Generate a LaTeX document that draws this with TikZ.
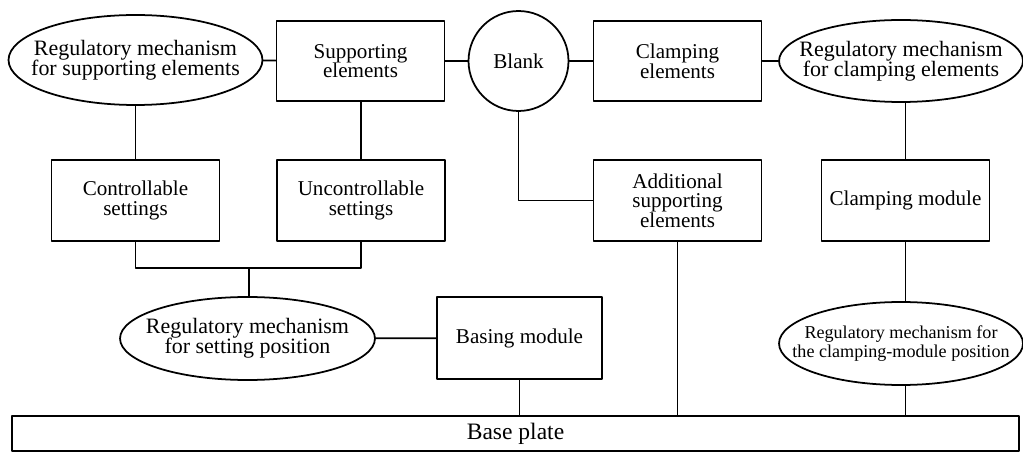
\documentclass[tikz,border=0pt]{standalone}
\usepackage{fontspec}
\setmainfont{Liberation Serif}
\usetikzlibrary{shapes.geometric}

\begin{document}
\begin{tikzpicture}[x=0.02cm, y=-0.02cm, line width=1pt, line join=round, line cap=round,
  every node/.style={font=\fontsize{12}{11.2}\selectfont, align=center, inner sep=0pt},
  box/.style={draw, rectangle, minimum width=3.36cm, minimum height=1.62cm},
  regel/.style={draw, ellipse, minimum width=#1, minimum height=1.66cm},
  regel/.default=4.88cm,
  reglab/.style={font=\fontsize{12.5}{11.5}\selectfont}]
\useasboundingbox (0,0) rectangle (1023,452);

\node[regel=5.08cm, minimum height=1.80cm, label={[reglab]center:Regulatory mechanism\\for supporting elements}] (regsup) at (135.5,60) {};
\node[box, minimum height=1.60cm] (supp) at (360.5,61) {Supporting\\elements};
\node[draw, circle, minimum size=2cm] (blank) at (518.5,61) {Blank};
\node[box, minimum height=1.60cm] (clamp) at (677.5,61) {Clamping\\elements};
\node[regel, minimum height=1.64cm, label={[reglab]center:Regulatory mechanism\\for clamping elements}] (regclamp) at (901,61) {};
\node[box] (ctrl) at (135.5,200.5) {Controllable\\settings};
\node[box] (unctrl) at (361,200.5) {Uncontrollable\\settings};
\node[box] (addsup) at (677.5,200.5) {Additional\\supporting\\elements};
\node[box] (clampmod) at (905.5,200.5) {Clamping module};
\node[regel=5.10cm, label={[reglab]center:Regulatory mechanism\\for setting position}] (regset) at (247.5,338.5) {};
\node[box, minimum width=3.30cm, minimum height=1.64cm] (basing) at (519.5,338) {Basing module};
\node[regel, label={[font=\fontsize{10.3}{9.3}\selectfont]center:Regulatory mechanism for\\the clamping-module position}] (regpos) at (901,343.5) {};
\node[draw, minimum width=20.14cm, minimum height=0.70cm, font=\fontsize{13.4}{14}\selectfont] (plate) at (515.5,433.5) {Base plate};
\coordinate (setjoin) at (249,268);

\draw (regsup) -- (supp) -- (blank) -- (clamp) -- (regclamp);
\draw (ctrl.north) -- (ctrl.north |- regsup.south);
\draw (unctrl.north) -- (unctrl.north |- supp.south);
\draw (blank.south) |- (addsup.west);
\draw (clampmod.north) -- (clampmod.north |- regclamp.south);
\draw (ctrl.south) |- (setjoin) -| (unctrl.south);
\draw (setjoin) -- (setjoin |- regset.north);
\draw (regset) -- (basing);
\draw (basing.south) -- (basing.south |- plate.north);
\draw (addsup.south) -- (addsup.south |- plate.north);
\draw (clampmod.south) -- (clampmod.south |- regpos.north);
\draw (clampmod.south |- regpos.south) -- (clampmod.south |- plate.north);
\end{tikzpicture}
\end{document}
